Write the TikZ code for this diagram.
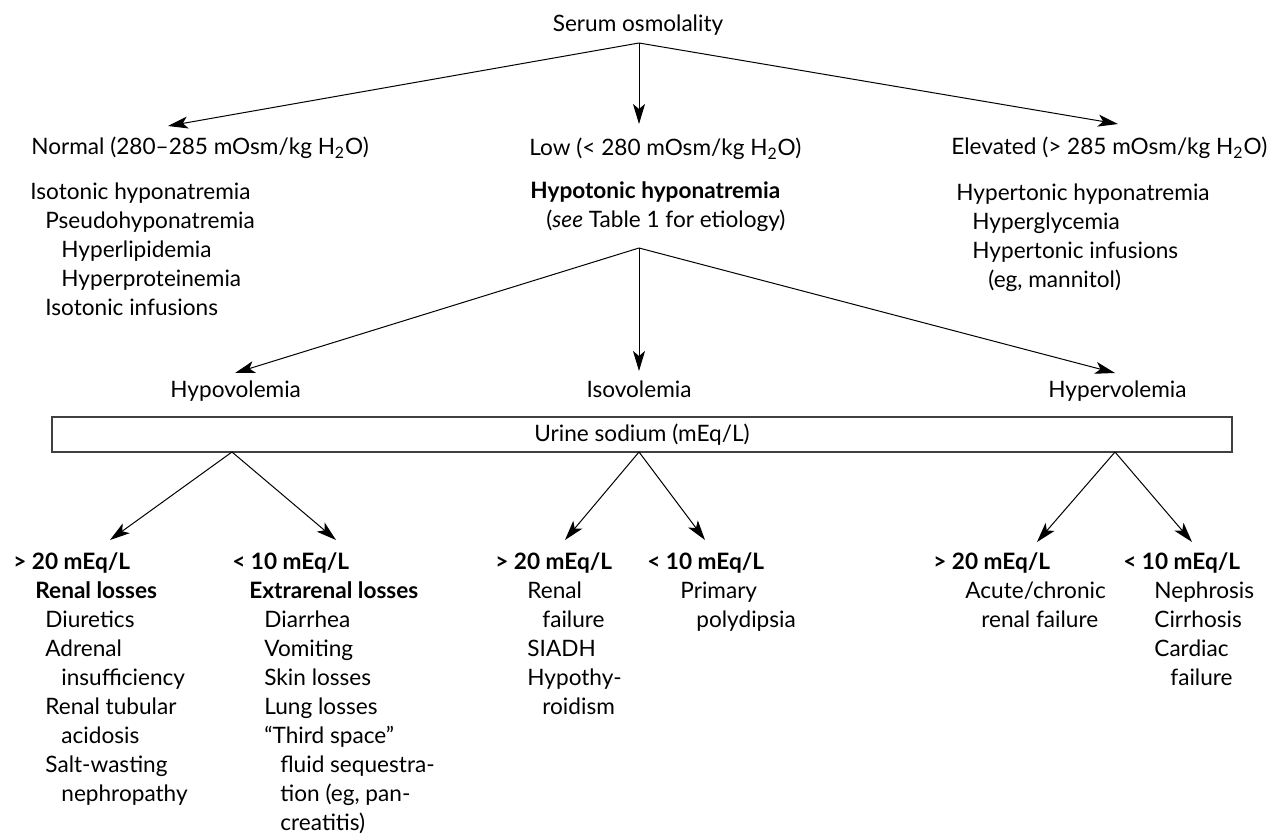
\documentclass[tikz,border=0pt]{standalone}
\usepackage{fontspec}
\setmainfont{Lato}
\usetikzlibrary{arrows.meta}

\begin{document}
\begin{tikzpicture}[x=0.5pt,y=-0.5pt,font=\fontsize{11.3}{14.5}\selectfont]
    % `entry' is used for every block of text (top left corner at the coordinate).
    % `connector' is used for all the arrows.
    % `surround' is used for the urine sodium box.
    \tikzstyle{entry} = [inner sep=0pt,align=left,anchor=north west]
    \tikzstyle{connector} = [line width=0.5pt,-{Stealth[length=10pt,width=6pt,inset=2.5pt]}]
    \tikzstyle{surround} = [draw=black!75,line width=0.7pt,inner sep=0pt,minimum width=590pt,minimum height=17.5pt]
    %
    \useasboundingbox[fill=white] (0,0) rectangle (1268,835);

    % Serum osmolality and its three branches.
    \node[entry,anchor=center] (serum) at (638,25) {Serum osmolality};
    \node[entry] (normal) at (31,137) {Normal (280--285 mOsm/kg H\textsubscript{2}O)};
    \node[entry] (isotonic) at (30,182) {Isotonic hyponatremia\\
      \hspace*{7.5pt}Pseudohyponatremia\\
      \hspace*{15.5pt}Hyperlipidemia\\
      \hspace*{15.5pt}Hyperproteinemia\\
      \hspace*{7.5pt}Isotonic infusions};
    \node[entry] (low) at (529,138) {Low (< 280 mOsm/kg H\textsubscript{2}O)};
    \node[entry] (hypotonic) at (530,181) {\textbf{Hypotonic hyponatremia}\\
      \hspace*{8pt}(\textit{see} Table 1 for etiology)};
    \node[entry] (elevated) at (951,137) {Elevated (> 285 mOsm/kg H\textsubscript{2}O)};
    \node[entry] (hypertonic) at (956,183) {Hypertonic hyponatremia\\
      \hspace*{8pt}Hyperglycemia\\
      \hspace*{8pt}Hypertonic infusions\\
      \hspace*{16pt}(eg, mannitol)};

    % Volume status.
    \node[entry] (hypovolemia) at (170,380) {Hypovolemia};
    \node[entry,anchor=north] (isovolemia) at (639,380) {Isovolemia};
    \node[entry] (hypervolemia) at (1048,380) {Hypervolemia};
    \node[surround] (urine) at (642,434.5) {Urine sodium (mEq/L)};

    % Urine sodium results.
    \node[entry] (renal) at (13,552) {\textbf{> 20 mEq/L}\\
      \hspace*{11pt}\textbf{Renal losses}\\
      \hspace*{16pt}Diuretics\\
      \hspace*{16pt}Adrenal\\
      \hspace*{24pt}insufficiency\\
      \hspace*{16pt}Renal tubular\\
      \hspace*{24pt}acidosis\\
      \hspace*{16pt}Salt-wasting\\
      \hspace*{24pt}nephropathy};
    \node[entry] (extrarenal) at (232,552) {\textbf{< 10 mEq/L}\\
      \hspace*{8.5pt}\textbf{Extrarenal losses}\\
      \hspace*{16pt}Diarrhea\\
      \hspace*{16pt}Vomiting\\
      \hspace*{16pt}Skin losses\\
      \hspace*{16pt}Lung losses\\
      \hspace*{16pt}“Third space”\\
      \hspace*{24pt}fluid sequestra-\\
      \hspace*{24pt}tion (eg, pan-\\
      \hspace*{24pt}creatitis)};
    \node[entry] (siadh) at (495,552) {\textbf{> 20 mEq/L}\\
      \hspace*{16pt}Renal\\
      \hspace*{23.5pt}failure\\
      \hspace*{16pt}SIADH\\
      \hspace*{16pt}Hypothy-\\
      \hspace*{23.5pt}roidism};
    \node[entry] (polydipsia) at (647,552) {\textbf{< 10 mEq/L}\\
      \hspace*{16.5pt}Primary\\
      \hspace*{24.5pt}polydipsia};
    \node[entry] (chronic) at (933,552) {\textbf{> 20 mEq/L}\\
      \hspace*{16pt}Acute/chronic\\
      \hspace*{24pt}renal failure};
    \node[entry] (nephrosis) at (1123,552) {\textbf{< 10 mEq/L}\\
      \hspace*{15.5pt}Nephrosis\\
      \hspace*{15.5pt}Cirrhosis\\
      \hspace*{15.5pt}Cardiac\\
      \hspace*{23.5pt}failure};

    % Fork points and arrow tips.
    \coordinate (serum fork) at (639,43);
    \coordinate (normal tip) at (168,126);
    \coordinate (low tip) at (639,124);
    \coordinate (elevated tip) at (1118,124);
    \coordinate (hypotonic fork) at (639,248);
    \coordinate (hypovolemia tip) at (235,373);
    \coordinate (isovolemia tip) at (639,371);
    \coordinate (hypervolemia tip) at (1115,373);
    \coordinate (hypo fork) at (232,452);
    \coordinate (iso fork) at (639,452);
    \coordinate (hyper fork) at (1115,452);
    \coordinate (renal tip) at (110,540);
    \coordinate (extrarenal tip) at (336,540);
    \coordinate (siadh tip) at (565,540);
    \coordinate (polydipsia tip) at (705,540);
    \coordinate (chronic tip) at (1037,542);
    \coordinate (nephrosis tip) at (1192,542);

    % Draw arrows.
    \foreach \tip in {normal tip,low tip,elevated tip}
      \draw[connector] (serum fork) -- (\tip);
    \foreach \tip in {hypovolemia tip,isovolemia tip,hypervolemia tip}
      \draw[connector] (hypotonic fork) -- (\tip);
    \draw[connector] (hypo fork) -- (renal tip);
    \draw[connector] (hypo fork) -- (extrarenal tip);
    \draw[connector] (iso fork) -- (siadh tip);
    \draw[connector] (iso fork) -- (polydipsia tip);
    \draw[connector] (hyper fork) -- (chronic tip);
    \draw[connector] (hyper fork) -- (nephrosis tip);
\end{tikzpicture}
\end{document}
